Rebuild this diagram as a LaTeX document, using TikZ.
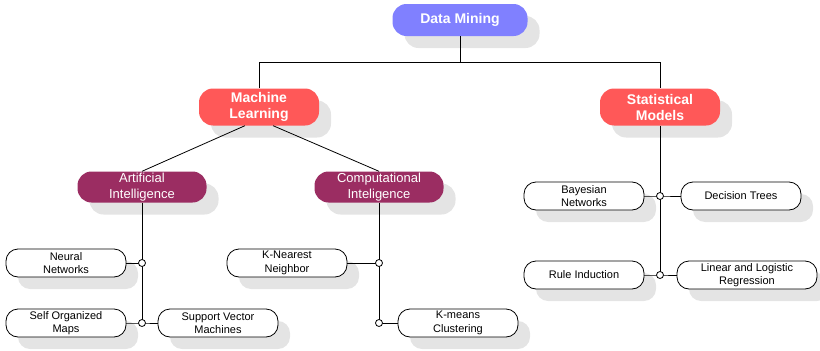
\documentclass[tikz,border=0pt]{standalone}
\usepackage{fontspec}
\setmainfont{Liberation Sans}
\usetikzlibrary{shadows,calc}
\definecolor{rootc}{RGB}{128,128,255}
\definecolor{mainc}{RGB}{255,88,88}
\definecolor{subc}{RGB}{155,45,98}
\definecolor{shade}{RGB}{228,228,228}
\tikzset{
  shd/.style={general shadow={shadow xshift=12pt,shadow yshift=-12pt,fill=shade}},
  root/.style={shd,fill=rootc,text=white,rounded corners=14pt,minimum width=135pt,
    minimum height=32pt,inner sep=0pt,font=\fontsize{14}{16}\selectfont\bfseries,align=center},
  main/.style={root,fill=mainc,minimum width=120pt,minimum height=37pt},
  sub/.style={shd,fill=subc,text=white,rounded corners=14pt,minimum width=129pt,
    minimum height=31pt,inner sep=0pt,font=\fontsize{13}{16}\selectfont,align=center},
  leaf/.style={shd,draw=black,line width=0.8pt,fill=white,rounded corners=12pt,
    minimum width=120pt,minimum height=28pt,inner sep=0pt,
    font=\fontsize{11}{13.5}\selectfont,align=center},
  link/.style={line width=0.8pt,black},
  jn/.style={circle,draw=black,line width=0.8pt,fill=white,inner sep=0pt,minimum size=7pt},
}
\begin{document}
\begin{tikzpicture}[x=1pt,y=-1pt]
  \useasboundingbox (0,0) rectangle (820,351);
  % top levels
  \node[root] (DM) at (460,20) {Data Mining};
  \node[main] (ML) at (259,107) {Machine\\Learning};
  \node[main] (SM) at (660,107) {Statistical\\Models};
  \node[sub] (AI) at (142,187) {Artificial\\Intelligence};
  \node[sub] (CI) at (379,187) {Computational\\Inteligence};
  % leaves
  \node[leaf] (NN) at (66,263) {Neural\\Networks};
  \node[leaf] (SOM) at (66,323) {Self Organized\\Maps};
  \node[leaf] (SVM) at (218,323) {Support Vector\\Machines};
  \node[leaf] (KNN) at (287,263) {K-Nearest\\Neighbor};
  \node[leaf] (KMC) at (458,323) {K-means\\Clustering};
  \node[leaf] (BN) at (584,196) {Bayesian\\Networks};
  \node[leaf] (DT) at (741,196) {Decision Trees};
  \node[leaf] (RI) at (584,275) {Rule Induction};
  \node[leaf,minimum width=140pt] (LLR) at (747,275) {Linear and Logistic\\Regression};
  % junctions
  \coordinate (top) at ($(DM.south)+(0,26)$);
  \coordinate (j1) at (AI.south |- NN.east);
  \coordinate (j2) at (AI.south |- SOM.east);
  \coordinate (j3) at (CI.south |- KNN.east);
  \coordinate (j4) at (CI.south |- KMC.west);
  \coordinate (j5) at (SM.south |- BN.east);
  \coordinate (j6) at (SM.south |- RI.east);
  % connectors
  \draw[link] (DM.south) -- (top);
  \draw[link] (ML.north) |- (top) -| (SM.north);
  \draw[link] (ML.233) -- (AI.north);
  \draw[link] (ML.307) -- (CI.north);
  \draw[link] (AI.south) -- (j2);
  \draw[link] (NN.east) -- (j1);
  \draw[link] (SOM.east) -- (j2) -- (SVM.west);
  \draw[link] (CI.south) -- (j4) -- (KMC.west);
  \draw[link] (KNN.east) -- (j3);
  \draw[link] (SM.south) -- (j6);
  \draw[link] (BN.east) -- (j5) -- (DT.west);
  \draw[link] (RI.east) -- (j6) -- (LLR.west);
  \foreach \j in {j1,j2,j3,j4,j5,j6} \node[jn] at (\j) {};
\end{tikzpicture}
\end{document}
